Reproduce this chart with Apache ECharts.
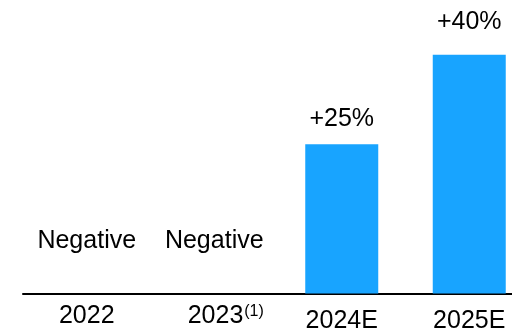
<!DOCTYPE html>
<html>
<head>
<meta charset="utf-8">
<script src="https://cdn.jsdelivr.net/npm/echarts@6/dist/echarts.min.js"></script>
<style>
  html, body { margin: 0; padding: 0; background: #fff; }
  #chart { width: 512px; height: 328px; }
</style>
</head>
<body>
<div id="chart"></div>
<script>
// Yearly growth, with the years that had no positive growth marked as text
const categories = ['2022', '2023', '2024E', '2025E'];
const footnotes = ['', '(1)', '', ''];
const growthPct = [null, null, 25, 40];
const statusText = ['Negative', 'Negative', null, null];

const FONT = '"Liberation Sans", Arial, sans-serif';
const BLUE = '#18A4FF';

// value-label gap above each bar, in pixels
const labelGap = [13, 13, 13, 20];

// text-only entries for the years without a bar
const statusData = statusText
  .map((t, i) => (t ? [i, 0, t] : null))
  .filter(d => d);

const barData = growthPct.map((v, i) =>
  v == null ? null : { value: v, label: { distance: labelGap[i] } });

// estimate years sit a little lower on the axis
const axisLabelText = (v, i) => {
  if (footnotes[i]) return '{base|' + v + '}{sup|' + footnotes[i] + '}';
  if (/E$/.test(v)) return '{est|' + v + '}';
  return v;
};

const chart = echarts.init(document.getElementById('chart'), null, { renderer: 'canvas' });
chart.setOption({
  animation: false,
  backgroundColor: '#fff',
  grid: {
    left: 23, right: -21, top: 25, bottom: 34.5,
    containLabel: false,
    outerBoundsMode: 'none'
  },
  xAxis: {
    type: 'category',
    data: categories,
    axisTick: { show: false },
    axisLine: { lineStyle: { color: '#000', width: 2 } },
    axisLabel: {
      interval: 0,
      margin: 10,
      color: '#000',
      fontFamily: FONT,
      fontSize: 25,
      lineHeight: 25,
      formatter: axisLabelText,
      rich: {
        base: { fontFamily: FONT, fontSize: 25, color: '#000', lineHeight: 25, padding: [0, 0, 0, 23] },
        sup: { fontFamily: FONT, fontSize: 16, color: '#000', lineHeight: 16, verticalAlign: 'top', padding: [0, 0, 0, 1] },
        est: { fontFamily: FONT, fontSize: 25, color: '#000', lineHeight: 25, padding: [10, 0, 0, 0] }
      }
    }
  },
  yAxis: {
    type: 'value',
    min: 0,
    max: 45,
    show: false,
    splitLine: { show: false }
  },
  series: [{
    type: 'bar',
    data: barData,
    barWidth: 73,
    itemStyle: { color: BLUE },
    label: {
      show: true,
      position: 'top',
      distance: 13,
      color: '#000',
      fontFamily: FONT,
      fontSize: 25,
      formatter: p => '+' + p.value + '%'
    }
  }, {
    type: 'custom',
    data: statusData,
    renderItem: (params, api) => {
      const pt = api.coord([api.value(0), api.value(1)]);
      return {
        type: 'text',
        x: pt[0],
        y: pt[1] - 52,
        style: {
          text: statusText[api.value(0)],
          fill: '#000',
          font: '25px ' + FONT,
          textAlign: 'center',
          textVerticalAlign: 'middle'
        }
      };
    }
  }]
});
</script>
</body>
</html>
